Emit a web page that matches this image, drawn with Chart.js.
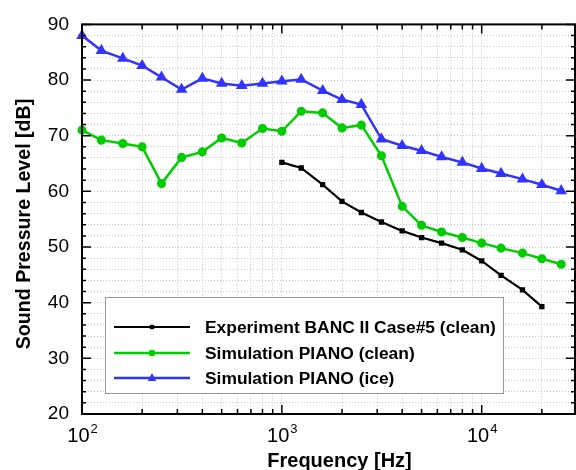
<!DOCTYPE html>
<html lang="en">
<head>
    <meta charset="UTF-8">
    <title>Sound Pressure Level vs Frequency</title>
    <script src="https://cdn.jsdelivr.net/npm/chart.js"></script>
    <style>
        body, html {
            margin: 0;
            padding: 0;
            background: #fff;
        }
        #wrap {
            width: 576px;
            height: 470px;
        }
    </style>
</head>
<body>
    <div id="wrap">
        <canvas id="splChart" width="576" height="470"></canvas>
    </div>

    <script>
        // 1/3 octave band centre frequencies [Hz]
        const freqSim = [100, 125, 160, 200, 250, 315, 400, 500, 630, 800, 1000, 1250, 1600,
                         2000, 2500, 3150, 4000, 5000, 6300, 8000, 10000, 12500, 16000, 20000, 25000];
        const freqExp = [1000, 1250, 1600, 2000, 2500, 3150, 4000, 5000, 6300, 8000, 10000, 12500, 16000, 20000];

        // SPL values [dB]
        const experiment = [65.2, 64.2, 61.2, 58.2, 56.2, 54.5, 52.9, 51.7, 50.7, 49.5, 47.5, 44.9, 42.3, 39.3];
        const simClean = [71.0, 69.2, 68.6, 68.0, 61.4, 66.1, 67.1, 69.6, 68.7, 71.3, 70.8, 74.4, 74.1,
                          71.4, 71.9, 66.4, 57.3, 53.9, 52.7, 51.7, 50.7, 49.8, 48.9, 47.9, 46.9];
        const simIce = [88.0, 85.3, 83.9, 82.6, 80.5, 78.3, 80.3, 79.4, 79.0, 79.4, 79.8, 80.1, 78.1,
                        76.5, 75.6, 69.4, 68.2, 67.3, 66.2, 65.2, 64.1, 63.2, 62.2, 61.2, 60.1];

        const seriesNames = ['Experiment BANC II Case#5 (clean)', 'Simulation PIANO (clean)', 'Simulation PIANO (ice)'];
        const xDecades = [100, 1000, 10000];
        const yMajor = [20, 30, 40, 50, 60, 70, 80, 90];

        const FONT = "'Liberation Sans', Arial, Helvetica, sans-serif";
        const X_MAX = 29300;

        function toPoints(xs, ys) {
            return xs.map((x, i) => ({ x: x, y: ys[i] }));
        }

        // log-minor tick values
        function logTicks(min, max) {
            const out = [];
            for (let d = 100; d <= max; d *= 10) {
                for (let m = 1; m <= 9; m++) {
                    const v = d * m;
                    if (v >= min && v <= max) out.push({ value: v, major: m === 1 });
                }
            }
            return out;
        }

        const isMajorX = v => xDecades.includes(v);
        const isMajorY = v => yMajor.includes(v);

        // inward ticks, frame, legend and text
        const decorPlugin = {
            id: 'decor',
            afterDatasetsDraw(chart) {
                const ctx = chart.ctx;
                const area = chart.chartArea;
                const xs = chart.scales.x;
                const ys = chart.scales.y;
                ctx.save();

                // ticks
                ctx.strokeStyle = '#000';
                ctx.lineWidth = 1.5;
                ctx.beginPath();
                xs.ticks.forEach(t => {
                    const px = xs.getPixelForValue(t.value);
                    const len = isMajorX(t.value) ? 9 : 5;
                    ctx.moveTo(px, area.bottom); ctx.lineTo(px, area.bottom - len);
                    ctx.moveTo(px, area.top); ctx.lineTo(px, area.top + len);
                });
                ys.ticks.forEach(t => {
                    const py = ys.getPixelForValue(t.value);
                    const len = isMajorY(t.value) ? 9 : 4;
                    ctx.moveTo(area.left, py); ctx.lineTo(area.left + len, py);
                    ctx.moveTo(area.right, py); ctx.lineTo(area.right - len, py);
                });
                ctx.stroke();

                // frame
                ctx.lineWidth = 2;
                ctx.strokeRect(area.left, area.top, area.right - area.left, area.bottom - area.top);

                // legend box
                const bx = 105, by = 297, bw = 398, bh = 96;
                ctx.fillStyle = '#fff';
                ctx.fillRect(bx, by, bw, bh);
                ctx.strokeStyle = '#999';
                ctx.lineWidth = 1;
                ctx.strokeRect(bx + 0.5, by + 0.5, bw, bh);

                const rowsY = [327, 353, 378];
                chart.data.datasets.forEach((ds, i) => {
                    const y = rowsY[i];
                    ctx.strokeStyle = ds.borderColor;
                    ctx.lineWidth = ds.borderWidth;
                    ctx.beginPath();
                    ctx.moveTo(114, y);
                    ctx.lineTo(190, y);
                    ctx.stroke();
                    drawMarker(ctx, ds.pointStyle, 152, y, ds.pointRadius, ds.borderColor);
                    ctx.fillStyle = '#000';
                    ctx.font = 'bold 17.4px ' + FONT;
                    ctx.textAlign = 'left';
                    ctx.textBaseline = 'middle';
                    ctx.fillText(seriesNames[i], 205, y + 1);
                });
                ctx.restore();
            },
            afterDraw(chart) {
                const ctx = chart.ctx;
                const area = chart.chartArea;
                const xs = chart.scales.x;
                ctx.save();
                ctx.fillStyle = '#000';

                // x tick labels 10^n
                xDecades.forEach(v => {
                    const px = xs.getPixelForValue(v);
                    const exp = String(Math.round(Math.log10(v)));
                    ctx.font = '20px ' + FONT;
                    const wb = ctx.measureText('10').width;
                    ctx.font = '13px ' + FONT;
                    const we = ctx.measureText(exp).width;
                    const x0 = px - (wb + we) / 2;
                    ctx.textAlign = 'left';
                    ctx.textBaseline = 'alphabetic';
                    ctx.font = '20px ' + FONT;
                    ctx.fillText('10', x0, area.bottom + 28);
                    ctx.font = '13px ' + FONT;
                    ctx.fillText(exp, x0 + wb + 1, area.bottom + 19);
                });

                // axis titles
                ctx.font = 'bold 20px ' + FONT;
                ctx.textAlign = 'center';
                ctx.textBaseline = 'alphabetic';
                ctx.fillText('Frequency [Hz]', 339.5, 467);

                ctx.textBaseline = 'middle';
                ctx.font = 'bold 19.6px ' + FONT;
                ctx.translate(25, 224);
                ctx.rotate(-Math.PI / 2);
                ctx.fillText('Sound Pressure Level [dB]', 0, 0);
                ctx.restore();
            }
        };

        function drawMarker(ctx, style, x, y, r, color) {
            ctx.save();
            ctx.fillStyle = color;
            ctx.beginPath();
            if (style === 'rect') {
                ctx.rect(x - r, y - r, 2 * r, 2 * r);
            } else if (style === 'triangle') {
                ctx.moveTo(x, y - r * 1.2);
                ctx.lineTo(x + r, y + r * 0.7);
                ctx.lineTo(x - r, y + r * 0.7);
                ctx.closePath();
            } else {
                ctx.arc(x, y, r, 0, Math.PI * 2);
            }
            ctx.fill();
            ctx.restore();
        }

        const ctx = document.getElementById('splChart').getContext('2d');
        new Chart(ctx, {
            type: 'line',
            data: {
                datasets: [{
                    label: seriesNames[0],
                    data: toPoints(freqExp, experiment),
                    borderColor: '#000000',
                    backgroundColor: '#000000',
                    borderWidth: 2.2,
                    pointStyle: 'rect',
                    pointRadius: 2.2,
                    tension: 0,
                    clip: false
                }, {
                    label: seriesNames[1],
                    data: toPoints(freqSim, simClean),
                    borderColor: '#00cc00',
                    backgroundColor: '#00cc00',
                    borderWidth: 2.5,
                    pointStyle: 'circle',
                    pointRadius: 3.3,
                    tension: 0,
                    clip: false
                }, {
                    label: seriesNames[2],
                    data: toPoints(freqSim, simIce),
                    borderColor: '#3333ff',
                    backgroundColor: '#3333ff',
                    borderWidth: 2.5,
                    pointStyle: 'triangle',
                    pointRadius: 4.2,
                    tension: 0,
                    clip: false
                }]
            },
            options: {
                responsive: false,
                animation: false,
                layout: {
                    autoPadding: false,
                    padding: { top: 22.7, right: 1, left: 0, bottom: 0 }
                },
                plugins: {
                    legend: { display: false },
                    tooltip: { enabled: false }
                },
                scales: {
                    x: {
                        type: 'logarithmic',
                        min: 100,
                        max: X_MAX,
                        afterBuildTicks: scale => { scale.ticks = logTicks(100, X_MAX); },
                        afterFit: scale => {
                            scale.height = 56;
                            scale.paddingLeft = 0;
                            scale.paddingRight = 0;
                        },
                        ticks: { display: false },
                        grid: { color: '#c4c4c4', lineWidth: 1, drawTicks: false },
                        border: { display: false, dash: [1, 2] }
                    },
                    y: {
                        min: 20,
                        max: 90,
                        afterFit: scale => { scale.width = 82; },
                        ticks: {
                            stepSize: 2,
                            autoSkip: false,
                            padding: 13,
                            color: '#000',
                            font: { family: FONT, size: 19 },
                            callback: v => (v % 10 === 0 ? String(v) : '')
                        },
                        grid: { color: '#c4c4c4', lineWidth: 1, drawTicks: false },
                        border: { display: false, dash: [1, 2] }
                    }
                }
            },
            plugins: [decorPlugin]
        });
    </script>
</body>
</html>
